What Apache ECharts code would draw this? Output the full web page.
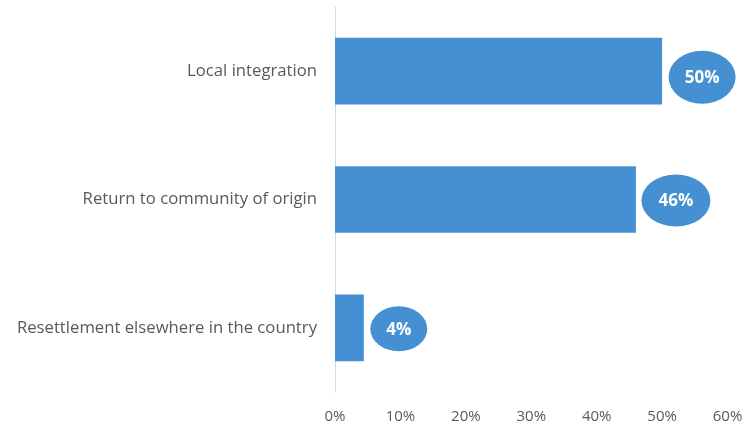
<!DOCTYPE html>
<html>
<head>
<meta charset="utf-8">
<script src="https://cdn.jsdelivr.net/npm/echarts@6/dist/echarts.min.js"></script>
<style>html,body{margin:0;padding:0;background:#fff}#c{width:755px;height:427px}</style>
</head>
<body>
<div id="c"></div>
<script>
const categories = ['Local integration', 'Return to community of origin', 'Resettlement elsewhere in the country'];
const values = [50, 46, 4.4];
const xTicks = [0, 10, 20, 30, 40, 50, 60];

// bubble styles (per label), kept apart from data
const bubbleStyle = [
  { size: [67, 53], offset: [40, 6] },
  { size: [69, 52], offset: [40, 1] },
  { size: [57, 45], offset: [35, 1] }
];

const blue = '#4590d2';
const font = 'Open Sans';
const chart = echarts.init(document.getElementById('c'));
chart.setOption({
  animation: false,
  grid: { left: 335, right: 27.5, top: 7, bottom: 35, containLabel: false },
  xAxis: {
    type: 'value', min: xTicks[0], max: xTicks[xTicks.length - 1], interval: 10,
    axisLine: { show: false }, axisTick: { show: false }, splitLine: { show: false },
    axisLabel: { formatter: '{value}%', color: '#595959', fontFamily: font, fontSize: 15, margin: 17 }
  },
  yAxis: {
    type: 'category', data: categories, inverse: true,
    axisLine: { show: true, lineStyle: { color: '#d9d9d9', width: 1 } },
    axisTick: { show: false },
    axisLabel: { color: '#595959', fontFamily: font, fontSize: 16.7, margin: 18 }
  },
  series: [
    {
      type: 'bar', data: values, barCategoryGap: '48%',
      itemStyle: { color: blue }
    },
    {
      type: 'scatter',
      data: values.map((v, i) => ({
        value: [v, categories[i]],
        symbolSize: bubbleStyle[i].size,
        symbolOffset: bubbleStyle[i].offset
      })),
      symbol: 'circle',
      itemStyle: { color: blue, opacity: 1 },
      label: {
        show: true, position: 'inside', color: '#fff', fontWeight: 'bold',
        fontFamily: font, fontSize: 17, offset: [0, 1],
        formatter: p => Math.round(p.value[0]) + '%'
      },
      z: 3
    }
  ]
});
</script>
</body>
</html>
